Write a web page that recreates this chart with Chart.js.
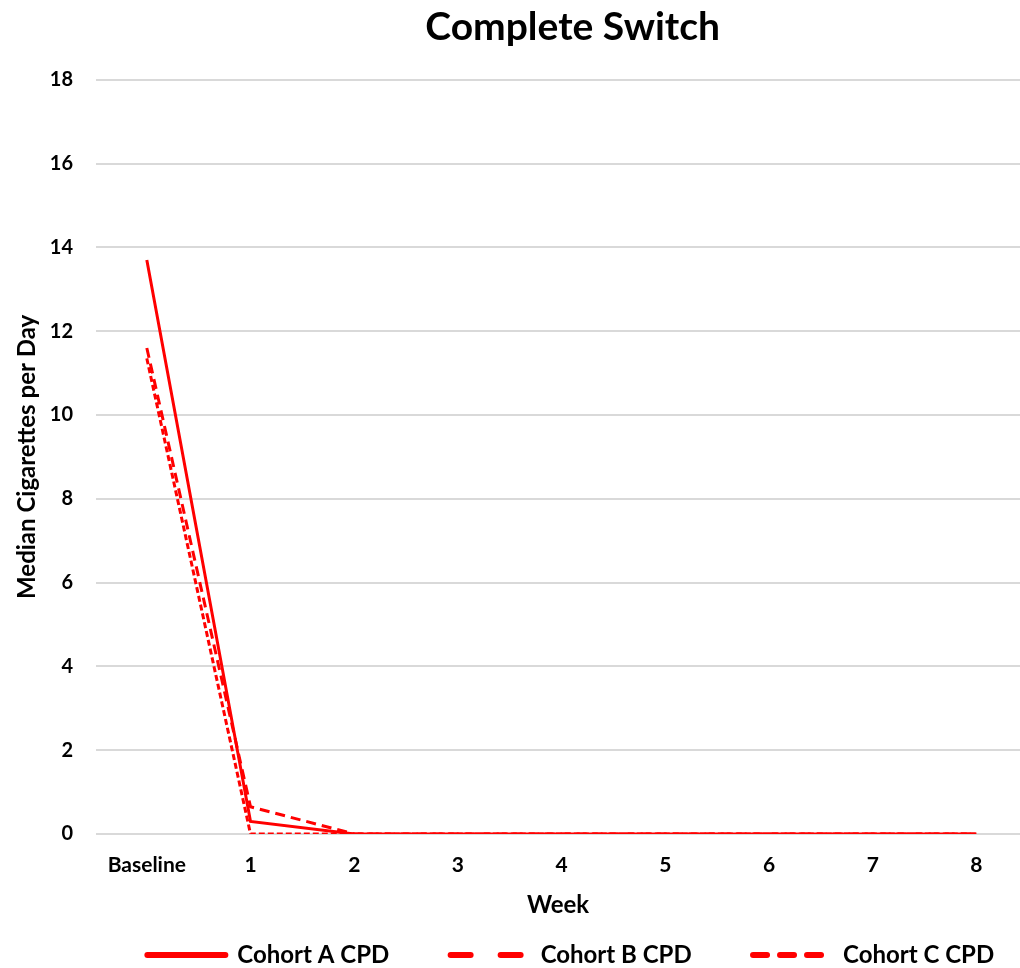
<!DOCTYPE html>
<html>
<head>
<meta charset="utf-8">
<script src="https://cdn.jsdelivr.net/npm/chart.js@4.4.1/dist/chart.umd.min.js"></script>
<style>
  html, body { margin: 0; padding: 0; background: #fff; }
  #wrap { width: 1020px; height: 968px; }
</style>
</head>
<body>
<div id="wrap"><canvas id="cpd"></canvas></div>
<script>
var weeks = ['Baseline', '1', '2', '3', '4', '5', '6', '7', '8']
var cohortA = [13.7, 0.3, 0, 0, 0, 0, 0, 0, 0]
var cohortB = [11.6, 0.65, 0, 0, 0, 0, 0, 0, 0]
var cohortC = [11.35, 0, 0, 0, 0, 0, 0, 0, 0]
var seriesNames = ['Cohort A CPD', 'Cohort B CPD', 'Cohort C CPD']
var yTicks = [0, 2, 4, 6, 8, 10, 12, 14, 16, 18]

var red = '#ff0000'
var fam = 'Lato, "Open Sans", sans-serif'

// plot dashes and the (bigger) legend dashes
var plotDash = [[], [10, 6], [6, 3]]
var legendDash = [[], [20, 30], [14, 13]]
// wide gap between legend items, without growing the legend height
var gap = '\u2003\u2003    '

function toPoints(arr) {
    return arr.map(function (v, i) { return { x: i, y: v } })
}

var ds = [cohortA, cohortB, cohortC].map(function (arr, i) {
    return {
        label: seriesNames[i],
        data: toPoints(arr),
        borderColor: red,
        backgroundColor: red,
        borderWidth: 3,
        borderDash: plotDash[i]
    }
})

var ctx = document.getElementById('cpd').getContext('2d')
var myChart = new Chart(ctx, {
    type: 'line',
    data: { datasets: ds },
    options: {
        responsive: true,
        maintainAspectRatio: false,
        animation: false,
        elements: { point: { radius: 0 }, line: { tension: 0 } },
        layout: { padding: { left: 4, right: 0, top: 2, bottom: 0 } },
        plugins: {
            title: {
                display: true,
                // leading em space nudges the title right like the original
                text: '\u2003Complete Switch',
                fullSize: false,
                color: '#000',
                font: { family: fam, size: 39, weight: 'bold' },
                padding: { top: 2, bottom: 29 }
            },
            legend: {
                position: 'bottom',
                fullSize: false,
                align: 'end',
                maxHeight: 27,
                labels: {
                    color: '#000',
                    font: { family: fam, size: 24, weight: 'bold' },
                    usePointStyle: true,
                    pointStyleWidth: 78,
                    boxWidth: 78,
                    boxHeight: 10,
                    padding: 2,
                    generateLabels: function (chart) {
                        return chart.data.datasets.map(function (d, i) {
                            return {
                                text: d.label + (i < 2 ? gap : '\u2003 '),
                                fillStyle: red,
                                strokeStyle: red,
                                lineWidth: 6,
                                lineDash: legendDash[i],
                                lineCap: 'round',
                                pointStyle: 'line',
                                fontColor: '#000',
                                datasetIndex: i
                            }
                        })
                    }
                }
            },
            tooltip: { enabled: false }
        },
        scales: {
            x: {
                type: 'linear',
                min: -0.49,
                max: 8.42,
                afterFit: function (scale) { scale.height = 107 },
                grid: { display: false },
                border: { display: false },
                ticks: {
                    stepSize: 1,
                    includeBounds: false,
                    autoSkip: false,
                    maxRotation: 0,
                    color: '#000',
                    font: { family: fam, size: 21, weight: 'bold' },
                    padding: 11,
                    callback: function (v) {
                        return Number.isInteger(v) && weeks[v] !== undefined ? weeks[v] : ''
                    }
                },
                title: { display: true, text: 'Week', color: '#000', font: { family: fam, size: 24, weight: 'bold' }, padding: { top: 4, bottom: 21 } }
            },
            y: {
                min: yTicks[0],
                max: yTicks[yTicks.length - 1],
                afterFit: function (scale) { scale.width = 92 },
                afterBuildTicks: function (scale) {
                    scale.ticks = yTicks.map(function (v) { return { value: v } })
                },
                ticks: { color: '#000', font: { family: fam, size: 20, weight: 'bold' }, padding: 23 },
                grid: { color: '#d9d9d9', lineWidth: 2, drawTicks: false },
                border: { display: false },
                title: { display: true, text: 'Median Cigarettes per Day', color: '#000', font: { family: fam, size: 24, weight: 'bold' }, padding: { top: 9, bottom: 4 } }
            }
        }
    }
})
</script>
</body>
</html>
